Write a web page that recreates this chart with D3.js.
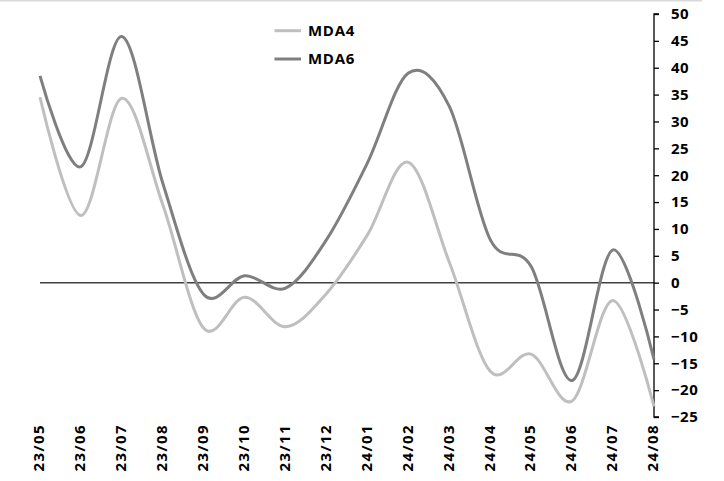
<!DOCTYPE html>
<html>
<head>
<meta charset="utf-8">
<script src="https://cdn.jsdelivr.net/npm/d3@7"></script>
<style>
  html, body { margin: 0; padding: 0; background: #fff; }
  svg { display: block; }
  text { font-family: "Open Sans", Lato, sans-serif; font-weight: bold; fill: #000; }
</style>
</head>
<body>
<script>
const categories = ["23/05","23/06","23/07","23/08","23/09","23/10","23/11","23/12","24/01","24/02","24/03","24/04","24/05","24/06","24/07","24/08"];
const mda4 = [34.5, 12.5, 34.3, 14.5, -8.5, -2.7, -8.2, -2.0, 8.9, 22.4, 3.8, -16.5, -13.3, -22.0, -3.3, -23.0];
const mda6 = [38.5, 21.6, 45.8, 18.5, -2.2, 1.3, -1.0, 8.0, 22.3, 39.0, 32.8, 8.0, 3.0, -18.2, 6.1, -14.3];
const yTicks = [50, 45, 40, 35, 30, 25, 20, 15, 10, 5, 0, -5, -10, -15, -20, -25];
const seriesNames = ["MDA4", "MDA6"];
const seriesColors = ["#bfbfbf", "#7f7f7f"];

const W = 724, H = 481;
const FONT = '"Open Sans", Lato, sans-serif';
const svg = d3.select("body").append("svg").attr("width", W).attr("height", H);

// top border line
svg.append("line").attr("x1", 0).attr("x2", 702).attr("y1", 0.5).attr("y2", 0.5)
  .attr("stroke", "#d9d9d9").attr("stroke-width", 2);

const x = d3.scalePoint().domain(categories).range([40, 654]);
const y = d3.scaleLinear().domain([-25, 50]).range([417, 14]);

// zero line
svg.append("line").attr("x1", x(categories[0])).attr("x2", x(categories[categories.length-1]))
  .attr("y1", y(0)).attr("y2", y(0)).attr("stroke", "#404040").attr("stroke-width", 1.5);

// y axis on right
const yAxis = d3.axisRight(y).tickValues(yTicks).tickSize(5).tickPadding(12).tickFormat(d3.format("d"));
const gy = svg.append("g").attr("transform", `translate(${x(categories[categories.length-1])},0)`).call(yAxis);
gy.select(".domain").attr("stroke", "#000").attr("stroke-width", 1.3).attr("d", `M5,${y(50)}H0V${y(-25)}H5`);
gy.selectAll(".tick line").attr("stroke", "#000").attr("stroke-width", 1.3);
gy.selectAll(".tick text").attr("font-size", 15).style("font-family", FONT).style("font-weight", "bold")
  .style("letter-spacing", "0.5px").attr("fill", "#000");

// x labels
const xAxis = d3.axisBottom(x).tickSize(0).tickPadding(0);
const gx = svg.append("g").attr("transform", `translate(0,424)`).call(xAxis);
gx.select(".domain").remove();
gx.selectAll(".tick text")
  .attr("font-size", 15).style("font-family", FONT).style("font-weight", "bold")
  .style("letter-spacing", "1.4px").attr("fill", "#000")
  .attr("transform", "rotate(-90)")
  .attr("text-anchor", "end").attr("x", 0).attr("y", 0).attr("dx", 0).attr("dy", "0.25em");

// lines
const line = d3.line().x((d, i) => x(categories[i])).y(d => y(d)).curve(d3.curveCardinal.tension(0));
[mda4, mda6].forEach((s, k) => {
  svg.append("path").datum(s).attr("d", line).attr("fill", "none")
    .attr("stroke", seriesColors[k]).attr("stroke-width", 3).attr("stroke-linejoin", "round");
});

// legend
const legY = [30.7, 59];
seriesNames.forEach((n, k) => {
  svg.append("line").attr("x1", 274.5).attr("x2", 301).attr("y1", legY[k]).attr("y2", legY[k])
    .attr("stroke", seriesColors[k]).attr("stroke-width", 3);
  svg.append("text").attr("x", 308).attr("y", legY[k]).attr("dy", "0.36em")
    .attr("font-size", 15).style("font-family", FONT).style("letter-spacing", "0.7px").text(n);
});
</script>
</body>
</html>
